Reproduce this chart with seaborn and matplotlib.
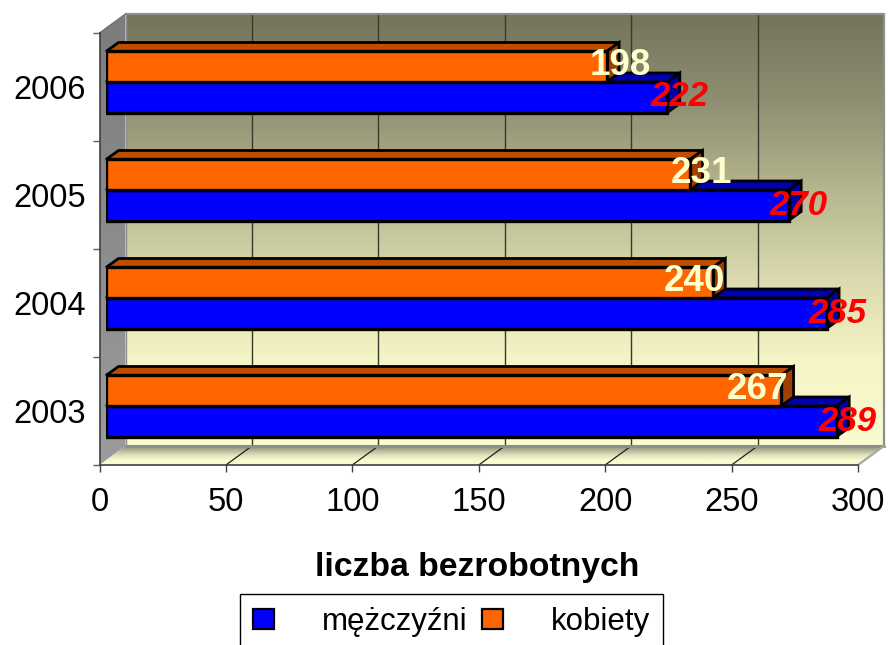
import numpy as np
import pandas as pd
import matplotlib
matplotlib.use("Agg")
import matplotlib.pyplot as plt
import seaborn as sns
from matplotlib.colors import LinearSegmentedColormap
from matplotlib.patches import Polygon
from matplotlib.transforms import IdentityTransform

years = ["2006", "2005", "2004", "2003"]
men = [222, 270, 285, 289]
women = [198, 231, 240, 267]
men_name = "mężczyźni"
women_name = "kobiety"
x_ticks = [0, 50, 100, 150, 200, 250, 300]
x_title = "liczba bezrobotnych"

df = pd.DataFrame({
    "rok": years * 2,
    "liczba": women + men,
    "płeć": [women_name] * 4 + [men_name] * 4,
})

sns.set_style("white")
plt.rcParams["font.family"] = ["Liberation Sans", "DejaVu Sans"]
plt.rcParams["text.color"] = "black"
plt.rcParams["axes.labelcolor"] = "black"
plt.rcParams["xtick.labelcolor"] = "black"
plt.rcParams["ytick.labelcolor"] = "black"

W, H = 888, 645
fig = plt.figure(figsize=(W / 100, H / 100), dpi=100, facecolor="white")


def rect_px(l, t, r, b):
    return [l / W, 1 - b / H, (r - l) / W, (b - t) / H]


# plane geometry in pixels
L, R, T, B = 99.5, 858, 33, 465
DX, DY = 26, -19
BX, BY = 6.5, -5
FACE_DX, FACE_DY = 12.5, 9

# background: walls and floor
bg = fig.add_axes([0, 0, 1, 1], zorder=0)
bg.set_xlim(0, W)
bg.set_ylim(H, 0)
bg.axis("off")


def gradient(colors, extent, clip=None):
    cmap = LinearSegmentedColormap.from_list("g", colors)
    im = bg.imshow(np.linspace(0, 1, 256)[:, None], cmap=cmap, aspect="auto",
                   extent=extent, interpolation="bilinear", zorder=1)
    if clip is not None:
        poly = Polygon(clip, closed=True, transform=bg.transData, fc="none", ec="none")
        bg.add_patch(poly)
        im.set_clip_path(poly)


wall_l, wall_r, wall_t, wall_b = L + DX, R + DX, T + DY, B + DY
gradient(["#74745C", "#8E8E72", "#B4B48E", "#D8D8AC", "#F4F4C6", "#FBFBD0"],
         (wall_l, wall_r, wall_b, wall_t))
left_wall = [(L, T), (wall_l, wall_t), (wall_l, wall_b), (L, B)]
gradient(["#7C7C7C", "#9C9C9C"], (L, wall_l, B, wall_t), left_wall)
floor = [(L, B), (R, B), (wall_r, wall_b), (wall_l, wall_b)]
gradient(["#8C8C78", "#B8B89C", "#E4E4BC", "#FBFBD0", "#FBFBD0"], (L, wall_r, B, wall_b), floor)
bg.set_xlim(0, W)
bg.set_ylim(H, 0)

# grid lines on the back wall and floor
for i in x_ticks[1:-1]:
    gx = L + (R - L) * i / 300
    bg.plot([gx + DX, gx + DX], [wall_t, wall_b], color="#38382C", lw=1, zorder=2)
    bg.plot([gx, gx + DX], [B, wall_b], color="#202020", lw=0.9, zorder=2)
# grey edges
bg.plot([wall_l, wall_r, wall_r], [wall_t, wall_t, wall_b], color="#8E8E8E", lw=1.6, zorder=2)
bg.plot([wall_l, wall_r], [wall_b, wall_b], color="#8E8E8E", lw=2.2, zorder=2)
bg.plot([R, wall_r], [B, wall_b], color="#A8A8A8", lw=1.6, zorder=2)
bg.plot([L, wall_l], [T, wall_t], color="#707070", lw=1, zorder=2)
bg.plot([wall_l, wall_l], [wall_t, wall_b], color="#8E8E8E", lw=1, zorder=2)

# axis frame and ticks
ax = fig.add_axes(rect_px(L, T, R, B), zorder=1)
ax.patch.set_visible(False)
ax.set_xlim(0, 300)
ax.set_ylim(3.5, -0.5)
for s in ("top", "right"):
    ax.spines[s].set_visible(False)
for s in ("left", "bottom"):
    ax.spines[s].set_color("#404040")
    ax.spines[s].set_linewidth(1.2)
ax.set_xticks(x_ticks)
ax.set_xticklabels([str(v) for v in x_ticks], fontsize=23.5)
ax.set_yticks(range(len(years)))
ax.set_yticklabels(years, fontsize=23.5)
ax.set_yticks(np.arange(-0.5, 4, 1), minor=True)
ax.tick_params(axis="x", length=5, width=1, color="#404040", pad=11, bottom=True)
ax.tick_params(axis="y", which="major", length=0, pad=10, left=False)
ax.tick_params(axis="y", which="minor", length=5, width=1, color="#606060", left=True)
ax.set_xlabel(x_title, fontsize=24.3, fontweight="bold", color="black")
ax.xaxis.set_label_coords((477 - L) / (R - L), -(552 - B) / (B - T))

# bars
ab = fig.add_axes(rect_px(L + BX, T + BY, R + BX, B + BY), zorder=2)
ab.patch.set_visible(False)
sns.barplot(data=df, y="rok", x="liczba", hue="płeć",
            order=years, hue_order=[women_name, men_name],
            palette={men_name: "#0000FF", women_name: "#FF6600"},
            orient="y", width=0.565, gap=0, saturation=1,
            edgecolor="black", linewidth=2.4, legend=False, ax=ab)
ab.set_xlim(0, 300)
ab.set_ylim(3.5, -0.5)
ab.axis("off")

women_bars, men_bars = ab.containers


def faces(bars, top_col, side_col, z):
    for b in bars:
        (x0, y0), (x1, y1) = ab.transData.transform(
            [(b.get_x(), b.get_y()), (b.get_x() + b.get_width(), b.get_y() + b.get_height())])
        ytop, ybot = max(y0, y1), min(y0, y1)
        top = [(x0, ytop), (x1, ytop), (x1 + FACE_DX, ytop + FACE_DY), (x0 + FACE_DX, ytop + FACE_DY)]
        side = [(x1, ytop), (x1 + FACE_DX, ytop + FACE_DY), (x1 + FACE_DX, ybot + FACE_DY), (x1, ybot)]
        for pts, col in ((top, top_col), (side, side_col)):
            ab.add_patch(Polygon(pts, closed=True, transform=IdentityTransform(), fc=col,
                                 ec="black", lw=2.0, zorder=z, joinstyle="miter", clip_on=False))


faces(men_bars, "#0000B0", "#0000A0", 0.5)
faces(women_bars, "#BF4D00", "#A04000", 0.7)
for b in men_bars:
    b.set_zorder(0.6)
for b in women_bars:
    b.set_zorder(0.9)

# data labels
women_off = [(14, 1), (11, 1), (-18, 1), (-24, 1)]
men_off = [(12, 1), (10, 0), (11, 0), (11, 0)]
for bars, vals, offs, col, sty, fs in ((women_bars, women, women_off, "#FFFFCC", "normal", 26.5),
                                       (men_bars, men, men_off, "#FF0000", "italic", 25)):
    for b, v, off in zip(bars, vals, offs):
        ab.annotate(str(v), (v, b.get_y() + b.get_height() / 2),
                    xytext=(off[0] * 0.72, off[1] * 0.72), textcoords="offset points",
                    ha="center", va="center", fontsize=fs, fontweight="bold",
                    fontstyle=sty, color=col, annotation_clip=False, zorder=5)

# legend
FS = 22.5
em = FS * 100 / 72
leg = fig.legend([men_bars, women_bars], [men_name, women_name], ncol=2, loc="upper left",
                 bbox_to_anchor=(240 / W, 1 - 594 / H), bbox_transform=fig.transFigure,
                 fontsize=FS, frameon=True, fancybox=False, framealpha=1, edgecolor="black",
                 borderaxespad=0, borderpad=0.42, handlelength=21 / em, handleheight=20 / em,
                 handletextpad=48 / em, columnspacing=14 / em, labelspacing=0,
                 labelcolor="black")
leg.get_frame().set_linewidth(1)
for h in leg.legend_handles:
    h.set_linewidth(1.6)

fig.savefig("out.png", dpi=100, facecolor="white")
